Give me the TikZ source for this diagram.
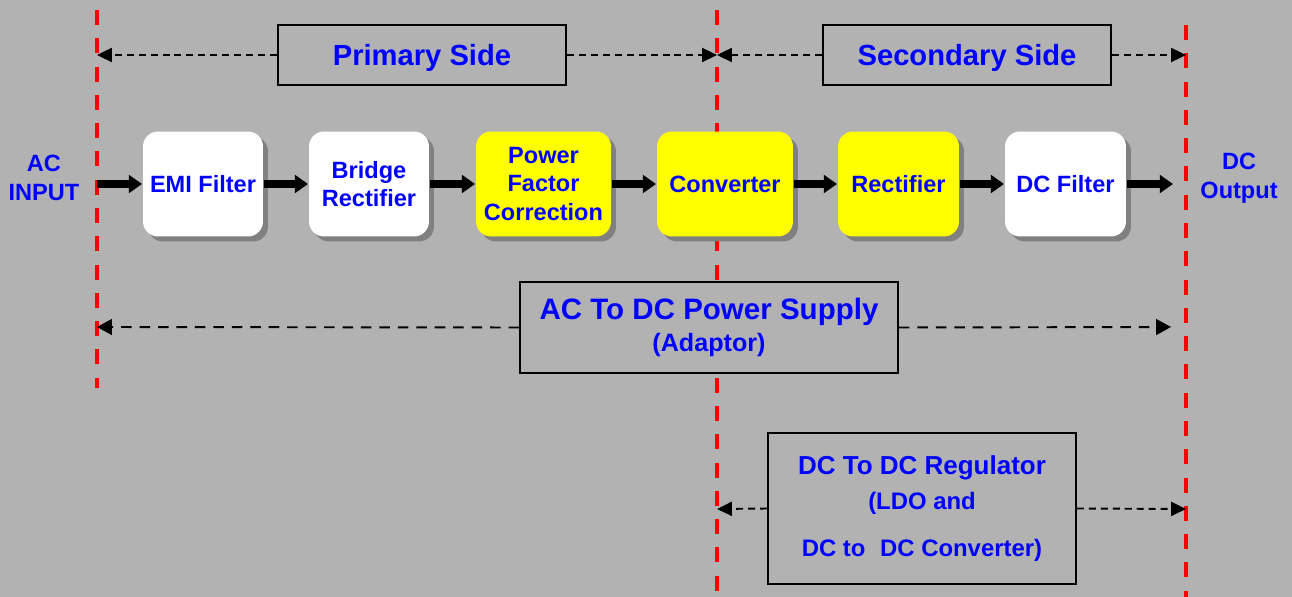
\documentclass[tikz,border=0pt]{standalone}
\usepackage{fontspec}
\setmainfont{Liberation Sans}
\usetikzlibrary{arrows.meta,shadows}
\definecolor{fondo}{RGB}{178,178,178}
\definecolor{sombra}{RGB}{128,128,128}
\definecolor{azul}{RGB}{0,0,255}
\definecolor{amarillo}{RGB}{255,255,0}

\begin{document}
\begin{tikzpicture}[x=0.02cm,y=-0.02cm,line width=1.1pt,
  bloque/.style={rounded corners=0.3cm,minimum width=2.4cm,minimum height=2.1cm,inner sep=1pt,align=center,text=azul,
    font=\bfseries\fontsize{13.4}{16.2}\selectfont,drop shadow={shadow xshift=0.1cm,shadow yshift=-0.1cm,fill=sombra,opacity=1}},
  caja/.style={draw,line width=1.1pt,fill=fondo,align=center,text=azul,inner sep=0pt},
  lado/.style={caja,minimum width=5.76cm,minimum height=1.2cm,text height=11.9pt,text depth=0pt,font=\bfseries\fontsize{16.6}{19}\selectfont},
  etiqueta/.style={align=center,text=azul,font=\bfseries\fontsize{13.4}{16.4}\selectfont},
  divisoria/.style={red,line width=2pt,dash pattern=on 8.5pt off 7.6pt},
  cota/.style={-{Triangle[length=8.5pt,width=8pt]},dash pattern=on 4pt off 2.8pt},
  cotalarga/.style={-{Triangle[length=8.5pt,width=9pt]},dash pattern=on 6pt off 4.5pt},
  flujo/.style={-{Triangle[length=7.5pt,width=10pt]},line width=5pt}]
  \useasboundingbox[fill=fondo] (0,0) rectangle (1292,597);
  % lineas divisorias
  \coordinate (izqA) at (97,10);    \coordinate (izqB) at (97,388);
  \coordinate (cenA) at (717,10);   \coordinate (cenB) at (717,597);
  \coordinate (derA) at (1186,25);  \coordinate (derB) at (1186,597);
  \draw[divisoria] (izqA) -- (izqB);
  \draw[divisoria] (cenA) -- (cenB);
  \draw[divisoria] (derA) -- (derB);
  % lados primario y secundario
  \node[lado] (prim) at (422,55) {Primary Side};
  \node[lado] (sec) at (967,55) {Secondary Side};
  \coordinate (pIzq) at (97,55); \coordinate (pCen) at (717,55); \coordinate (pDer) at (1186,55);
  \draw[cota] (prim.west) -- (pIzq);
  \draw[cota] (prim.east) -- (pCen);
  \draw[cota] (sec.west) -- (pCen);
  \draw[cota] (sec.east) -- (pDer);
  % cadena de bloques
  \node[etiqueta] (acin) at (44,178) {AC\\INPUT};
  \node[etiqueta] (dcout) at (1239,178) {DC\\Output};
  \node[bloque,fill=white] (emi) at (203,184) {EMI Filter};
  \node[bloque,fill=white] (puente) at (369,184) {Bridge\\Rectifier};
  \node[bloque,fill=amarillo,minimum width=2.7cm] (pfc) at (543.5,184) {Power\\Factor\\Correction};
  \node[bloque,fill=amarillo,minimum width=2.72cm] (conv) at (725,184) {Converter};
  \node[bloque,fill=amarillo,minimum width=2.42cm] (rect) at (898.5,184) {Rectifier};
  \node[bloque,fill=white,minimum width=2.42cm] (dcf) at (1065.5,184) {DC Filter};
  \coordinate (entrada) at (97,184); \coordinate (salida) at (1173,184);
  \draw[flujo] (entrada) -- (emi.west);
  \draw[flujo] (emi) -- (puente);
  \draw[flujo] (puente) -- (pfc);
  \draw[flujo] (pfc) -- (conv);
  \draw[flujo] (conv) -- (rect);
  \draw[flujo] (rect) -- (dcf);
  \draw[flujo] (dcf.east) -- (salida);
  % fuente AC-DC
  \node[caja,minimum width=7.56cm,minimum height=1.82cm,font=\bfseries\fontsize{16.8}{18.2}\selectfont] (acdc) at (709,327.5)
    {AC To DC Power Supply\\{\fontsize{14.3}{18.2}\selectfont (Adaptor)}};
  \coordinate (aIzq) at (97,327); \coordinate (aDer) at (1171,327);
  \draw[cotalarga] (acdc.west) -- (aIzq);
  \draw[cotalarga] (acdc.east) -- (aDer);
  % regulador DC-DC
  \node[caja,minimum width=6.16cm,minimum height=3.02cm,font=\bfseries\fontsize{13.6}{20}\selectfont] (dcdc) at (922,508.5)
    {{\fontsize{14.8}{20}\selectfont DC To DC Regulator}\\(LDO and\\[7pt]DC to\,\, DC Converter)};
  \coordinate (rIzq) at (717,509); \coordinate (rDer) at (1186,509);
  \draw[cota] (dcdc.west) -- (rIzq);
  \draw[cota] (dcdc.east) -- (rDer);
\end{tikzpicture}
\end{document}
